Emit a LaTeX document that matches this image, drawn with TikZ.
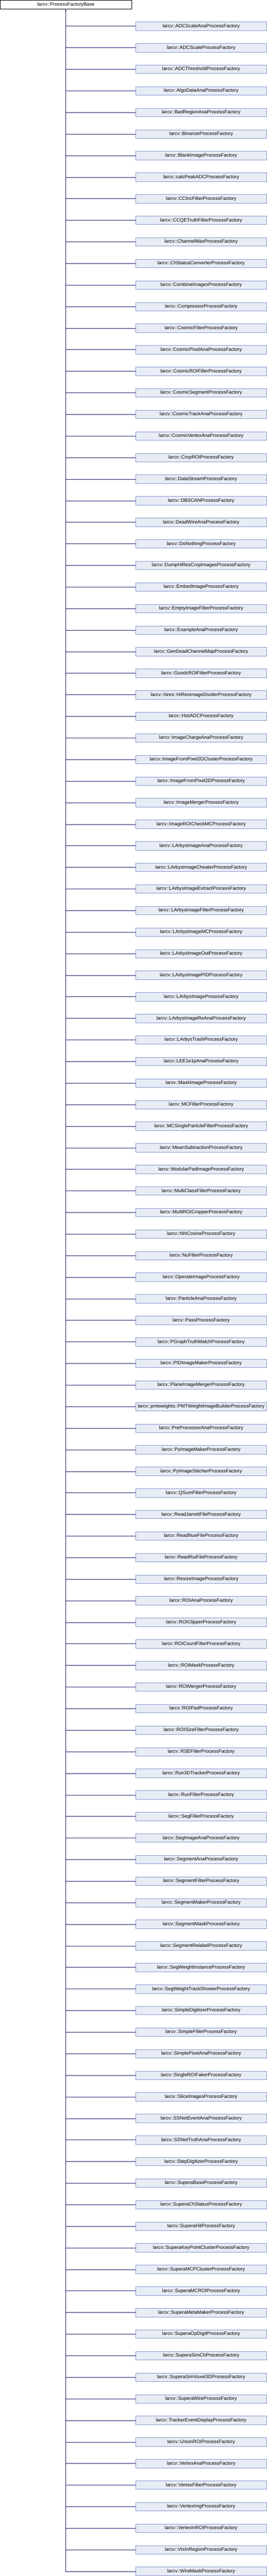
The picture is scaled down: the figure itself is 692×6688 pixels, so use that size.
\documentclass[tikz,border=0pt]{standalone}
\usepackage{fontspec}
\setmainfont{Liberation Sans}
\usetikzlibrary{arrows.meta}
\definecolor{edgeblue}{RGB}{25,25,112}
\definecolor{boxfill}{RGB}{232,236,245}
\definecolor{boxline}{RGB}{128,150,204}
\begin{document}
\begin{tikzpicture}[
        x=1pt, y=-1pt,
        classbox/.style={rectangle, anchor=north west, minimum width=340pt, minimum height=22pt,
            inner sep=0pt, line width=1pt, font=\fontsize{12.5pt}{15pt}\selectfont},
        base/.style={classbox, draw=black, fill=white},
        derived/.style={classbox, draw=boxline, fill=boxfill},
        link/.style={draw=edgeblue, line width=1pt},
        arrow/.style={link, -{Latex[length=5pt,width=4pt]}}
    ]
        \useasboundingbox (0,0) rectangle (692,6688);

        % Base class
        \node[base] (B) at (0.5,0.5) {larcv::ProcessFactoryBase};

        % Derived classes (119)
        \foreach \name [count=\i] in {ADCScaleAnaProcessFactory, ADCScaleProcessFactory,
            ADCThresholdProcessFactory, AlgoDataAnaProcessFactory, BadRegionAnaProcessFactory,
            BinarizeProcessFactory, BlankImageProcessFactory, calcPeakADCProcessFactory,
            CCIncFilterProcessFactory, CCQETruthFilterProcessFactory, ChannelMaxProcessFactory,
            ChStatusConverterProcessFactory, CombineImagesProcessFactory, CompressorProcessFactory,
            CosmicFilterProcessFactory, CosmicPixelAnaProcessFactory, CosmicROIFillerProcessFactory,
            CosmicSegmentProcessFactory, CosmicTrackAnaProcessFactory, CosmicVertexAnaProcessFactory,
            CropROIProcessFactory, DataStreamProcessFactory, DBSCANProcessFactory,
            DeadWireAnaProcessFactory, DoNothingProcessFactory, DumpHiResCropImagesProcessFactory,
            EmbedImageProcessFactory, EmptyImageFilterProcessFactory, ExampleAnaProcessFactory,
            GenDeadChannelMapProcessFactory, GoodcROIFilterProcessFactory,
            hires::HiResImageDividerProcessFactory, HistADCProcessFactory,
            ImageChargeAnaProcessFactory, ImageFromPixel2DClusterProcessFactory,
            ImageFromPixel2DProcessFactory, ImageMergerProcessFactory, ImageROICheckMCProcessFactory,
            LArbysImageAnaProcessFactory, LArbysImageCheaterProcessFactory,
            LArbysImageExtractProcessFactory, LArbysImageFilterProcessFactory,
            LArbysImageMCProcessFactory, LArbysImageOutProcessFactory, LArbysImagePIDProcessFactory,
            LArbysImageProcessFactory, LArbysImageReAnaProcessFactory, LArbysTrashProcessFactory,
            LEE1e1pAnaProcessFactory, MaskImageProcessFactory, MCFilterProcessFactory,
            MCSingleParticleFilterProcessFactory, MeanSubtractionProcessFactory,
            ModularPadImageProcessFactory, MultiClassFillerProcessFactory,
            MultiROICropperProcessFactory, NNCosineProcessFactory, NuFilterProcessFactory,
            OperateImageProcessFactory, ParticleAnaProcessFactory, PassProcessFactory,
            PGraphTruthMatchProcessFactory, PIDImageMakerProcessFactory,
            PlaneImageMergerProcessFactory, pmtweights::PMTWeightImageBuilderProcessFactory,
            PreProcessorAnaProcessFactory, PyImageMakerProcessFactory, PyImageStitcherProcessFactory,
            QSumFilterProcessFactory, ReadJarrettFileProcessFactory, ReadNueFileProcessFactory,
            ReadRuiFileProcessFactory, ResizeImageProcessFactory, ROIAnaProcessFactory,
            ROIClipperProcessFactory, ROICountFilterProcessFactory, ROIMaskProcessFactory,
            ROIMergerProcessFactory, ROIPadProcessFactory, ROISizeFilterProcessFactory,
            RSEFilterProcessFactory, Run3DTrackerProcessFactory, RunFilterProcessFactory,
            SegFillerProcessFactory, SegImageAnaProcessFactory, SegmentAnaProcessFactory,
            SegmentFilterProcessFactory, SegmentMakerProcessFactory, SegmentMaskProcessFactory,
            SegmentRelabelProcessFactory, SegWeightInstanceProcessFactory,
            SegWeightTrackShowerProcessFactory, SimpleDigitizerProcessFactory,
            SimpleFillerProcessFactory, SimplePixelAnaProcessFactory, SingleROIFakerProcessFactory,
            SliceImagesProcessFactory, SSNetEventAnaProcessFactory, SSNetTruthAnaProcessFactory,
            StepDigitizerProcessFactory, SuperaBaseProcessFactory, SuperaChStatusProcessFactory,
            SuperaHitProcessFactory, SuperaKeyPointClusterProcessFactory,
            SuperaMCPClusterProcessFactory, SuperaMCROIProcessFactory, SuperaMetaMakerProcessFactory,
            SuperaOpDigitProcessFactory, SuperaSimChProcessFactory, SuperaSimVoxel3DProcessFactory,
            SuperaWireProcessFactory, TrackerEventDisplayProcessFactory, UnionROIProcessFactory,
            VertexAnaProcessFactory, VertexFilterProcessFactory, VertexImgProcessFactory,
            VertexInROIProcessFactory, VtxInRegionProcessFactory, WireMaskProcessFactory}
            \node[derived] (D\i) at (351.5, 56*\i+0.5) {larcv::\name};

        % Trunk down to the last class
        \coordinate (T) at (170.5, 56*119+11.5);

        % Inheritance arrow up to the base class
        \draw[arrow] (T) -- (B.south -| T);

        % Branches trunk -> derived classes
        \foreach \i in {1,...,119}
            \draw[link] (T |- D\i.west) -- (D\i.west);

\end{tikzpicture}
\end{document}
